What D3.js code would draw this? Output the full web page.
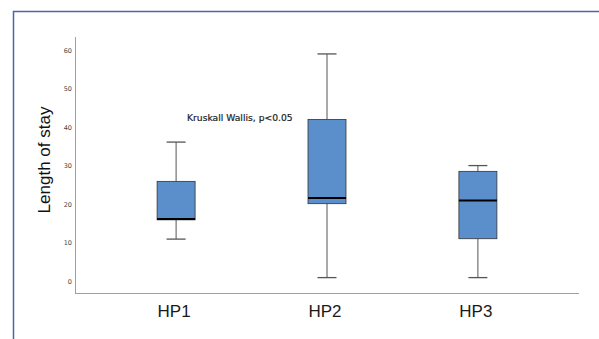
<!DOCTYPE html>
<html>
<head>
<meta charset="utf-8">
<script src="https://cdn.jsdelivr.net/npm/d3@7"></script>
<style>
  body { margin: 0; background: #fff; }
  svg { display: block; font-family: "Liberation Sans", Arial, sans-serif; }
</style>
</head>
<body>
<svg id="chart" width="599" height="339"></svg>
<script>
// box statistics
const groups = ['HP1', 'HP2', 'HP3'];
const mins = [11, 1, 1];
const q1s = [16, 20.2, 11.1];
const medians = [16.2, 21.7, 21];
const q3s = [26, 42.1, 28.6];
const maxs = [36.2, 59.1, 30.1];
const yTicks = [0, 10, 20, 30, 40, 50, 60];
const note = 'Kruskall Wallis, p<0.05';

const boxes = groups.map((g, i) => ({
  name: g, min: mins[i], q1: q1s[i], median: medians[i], q3: q3s[i], max: maxs[i],
}));

const svg = d3.select('#chart');
const plotLeft = 75, plotRight = 579, plotTop = 37, plotBottom = 293;

// outer frame (top and left edges only)
svg.append('path')
  .attr('d', `M13.5,339 V11.5 H599`)
  .attr('fill', 'none')
  .attr('stroke', '#5065a8')
  .attr('stroke-width', 1.5);

const x = d3.scalePoint().domain(groups).range([plotLeft, plotRight]).padding(0.67);
const y = d3.scaleLinear().domain([-3, 63.5]).range([plotBottom, plotTop]);

// axes
svg.append('line')
  .attr('x1', plotLeft + 0.5).attr('x2', plotLeft + 0.5)
  .attr('y1', plotTop).attr('y2', plotBottom)
  .attr('stroke', '#a0a0a0').attr('stroke-width', 1);
svg.append('line')
  .attr('x1', plotLeft).attr('x2', plotRight)
  .attr('y1', plotBottom + 0.5).attr('y2', plotBottom + 0.5)
  .attr('stroke', '#a0a0a0').attr('stroke-width', 1);

svg.append('g')
  .selectAll('text')
  .data(yTicks)
  .join('text')
  .attr('x', 72)
  .attr('y', (d) => y(d))
  .attr('dy', '0.35em')
  .attr('text-anchor', 'end')
  .attr('font-family', '"DejaVu Sans", sans-serif')
  .attr('font-size', 6.5)
  .attr('fill', '#444')
  .text((d) => d);

svg.append('g')
  .selectAll('text')
  .data(groups)
  .join('text')
  .attr('x', (d) => x(d) - 2)
  .attr('y', 317)
  .attr('text-anchor', 'middle')
  .attr('font-size', 17)
  .attr('fill', '#1a1a1a')
  .text((d) => d);

svg.append('text')
  .attr('transform', 'translate(50,160) rotate(-90)')
  .attr('text-anchor', 'middle')
  .attr('font-size', 17)
  .attr('fill', '#111')
  .text('Length of stay');

// boxes
const boxW = 38, capW = 19;
const g = svg.append('g')
  .selectAll('g')
  .data(boxes)
  .join('g')
  .attr('transform', (d) => `translate(${x(d.name)},0)`);

g.append('line')
  .attr('y1', (d) => y(d.max)).attr('y2', (d) => y(d.q3))
  .attr('stroke', '#555').attr('stroke-width', 1);
g.append('line')
  .attr('y1', (d) => y(d.q1)).attr('y2', (d) => y(d.min))
  .attr('stroke', '#555').attr('stroke-width', 1);
g.append('line')
  .attr('x1', -capW / 2).attr('x2', capW / 2)
  .attr('y1', (d) => y(d.max)).attr('y2', (d) => y(d.max))
  .attr('stroke', '#555').attr('stroke-width', 1.3);
g.append('line')
  .attr('x1', -capW / 2).attr('x2', capW / 2)
  .attr('y1', (d) => y(d.min)).attr('y2', (d) => y(d.min))
  .attr('stroke', '#555').attr('stroke-width', 1.3);
g.append('rect')
  .attr('x', -boxW / 2).attr('width', boxW)
  .attr('y', (d) => y(d.q3))
  .attr('height', (d) => y(d.q1) - y(d.q3))
  .attr('fill', '#5b8fcb')
  .attr('stroke', '#333').attr('stroke-width', 0.8);
g.append('line')
  .attr('x1', -boxW / 2).attr('x2', boxW / 2)
  .attr('y1', (d) => y(d.median)).attr('y2', (d) => y(d.median))
  .attr('stroke', '#000').attr('stroke-width', 2);

svg.append('text')
  .attr('x', 187)
  .attr('y', 121)
  .attr('font-family', '"DejaVu Sans", sans-serif')
  .attr('font-size', 9.2)
  .attr('fill', '#222')
  .attr('stroke', '#222').attr('stroke-width', 0.2)
  .text(note);
</script>
</body>
</html>
